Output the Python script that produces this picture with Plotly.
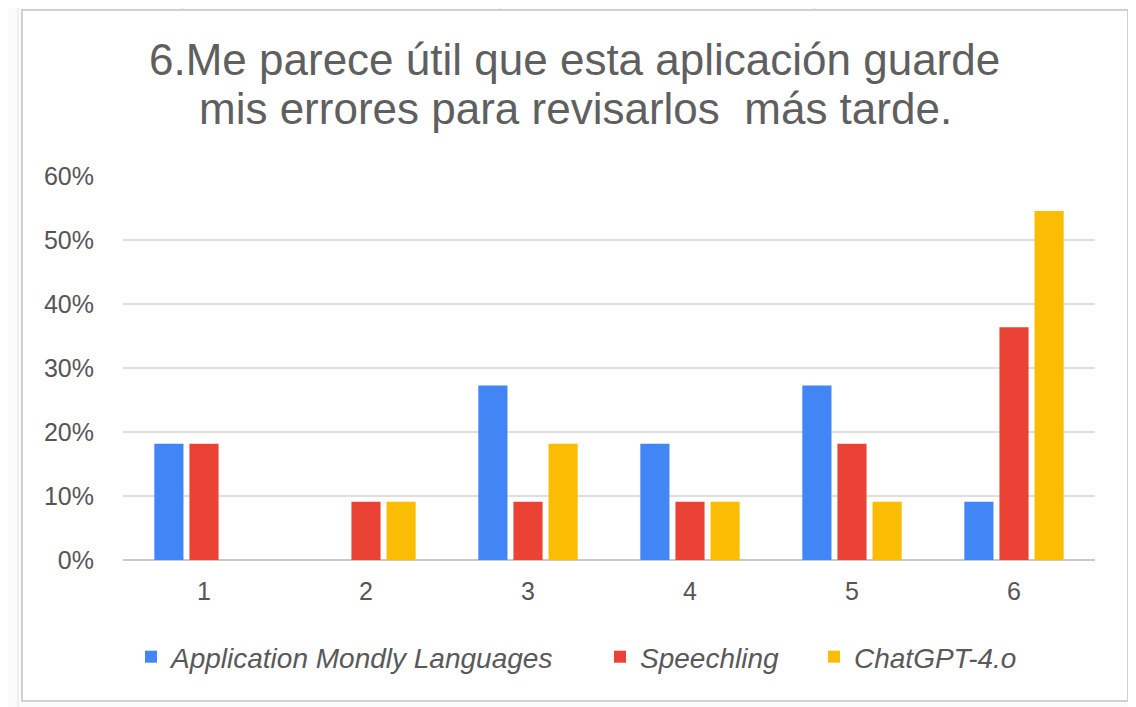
import plotly.graph_objects as go

categories = ['1', '2', '3', '4', '5', '6']
mondly = [0.1818, 0, 0.2727, 0.1818, 0.2727, 0.0909]
speechling = [0.1818, 0.0909, 0.0909, 0.0909, 0.1818, 0.3636]
chatgpt = [0, 0.0909, 0.1818, 0.0909, 0.0909, 0.5455]
series_names = ['Application Mondly Languages', 'Speechling', 'ChatGPT-4.o']
title_lines = ['6.Me parece útil que esta aplicación guarde',
               'mis errores para revisarlos\u00a0 más tarde.']

colors = ['#4285F4', '#EA4335', '#FBBC04']
legend_ids = ['legend', 'legend2', 'legend3']

fig = go.Figure()
for name, vals, col, lg in zip(series_names, [mondly, speechling, chatgpt], colors, legend_ids):
    fig.add_trace(go.Bar(x=categories, y=vals, name=name, marker_color=col,
                         marker_line_width=0, legend=lg, showlegend=True))

# page has an 8px body margin, so work in screen pixels and shift by 8
OFF = 8
W, H = 1136 - OFF, 707 - OFF
L, R, T, B = 123 - OFF, 1095 - OFF, 176 - OFF, 560 - OFF
def px(x):
    return (x - OFF - L) / (R - L)
def py(y):
    return (B - (y - OFF)) / (B - T)

shapes = []
for x in [183, 500, 815]:
    shapes.append(dict(type='line', xref='paper', yref='paper',
                       x0=px(x), x1=px(x), y0=py(8), y1=py(10),
                       line=dict(color='#d6d6d6', width=1)))
for x in [18, 1131]:
    shapes.append(dict(type='line', xref='paper', yref='paper',
                       x0=px(x), x1=px(x), y0=py(8), y1=py(707),
                       line=dict(color='#e3e3e3', width=1)))
shapes.append(dict(type='rect', xref='paper', yref='paper', layer='below',
                   x0=px(22), x1=px(1128), y0=py(10), y1=py(701),
                   fillcolor='white', line=dict(color='#d0d0d0', width=2)))

annotations = [
    dict(text=title_lines[0], xref='paper', yref='paper', x=px(574), y=py(59),
         xanchor='center', yanchor='middle', showarrow=False,
         font=dict(size=44, color='#5f5f5f')),
    dict(text=title_lines[1], xref='paper', yref='paper', x=px(575), y=py(108),
         xanchor='center', yanchor='middle', showarrow=False,
         font=dict(size=44, color='#5f5f5f')),
]

def legend_box(xpix):
    return dict(orientation='h', x=px(xpix), xanchor='left', y=py(657),
                yanchor='middle', font=dict(size=28, color='#595959', style='italic'),
                itemwidth=30, bgcolor='rgba(0,0,0,0)')

fig.update_layout(
    width=W, height=H,
    margin=dict(l=L, r=W - R, t=T, b=H - B),
    paper_bgcolor='#fbfbfb', plot_bgcolor='rgba(0,0,0,0)',
    barmode='group', bargap=0.35, bargroupgap=0.17,
    font=dict(family='Liberation Sans, Arial, sans-serif', size=20, color='#666666'),
    showlegend=True,
    legend=legend_box(131),
    legend2=legend_box(600),
    legend3=legend_box(814),
    shapes=shapes,
    annotations=annotations,
)
fig.update_xaxes(showgrid=False, showline=False, ticks='', ticklabelstandoff=14,
                 tickfont=dict(size=25, color='#555555'), range=[-0.5, 5.5])
fig.update_yaxes(range=[0, 0.6], dtick=0.1, tickformat='.0%', gridcolor='#dedede',
                 gridwidth=1.5, zeroline=True, zerolinecolor='#c8c8c8', zerolinewidth=2,
                 ticks='', ticklabelstandoff=28, tickfont=dict(size=25, color='#555555'))

fig.write_html('out.html')
